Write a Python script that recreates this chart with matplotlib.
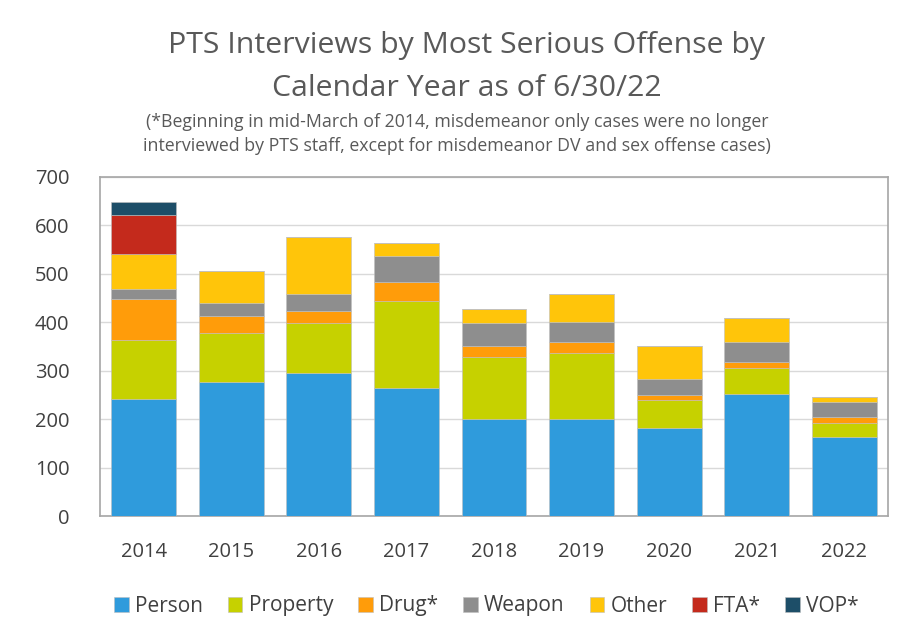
import matplotlib
matplotlib.use("Agg")
import matplotlib.pyplot as plt
import numpy as np

years = ["2014", "2015", "2016", "2017", "2018", "2019", "2020", "2021", "2022"]
person = [241, 276, 295, 264, 200, 201, 182, 252, 164]
property_ = [122, 101, 104, 180, 128, 135, 58, 54, 29]
drug = [86, 36, 25, 40, 24, 23, 10, 13, 12]
weapon = [19, 26, 34, 53, 47, 42, 33, 41, 30]
other = [74, 67, 119, 27, 28, 57, 68, 48, 11]
fta = [79, 0, 0, 0, 0, 0, 0, 0, 0]
vop = [28, 0, 0, 0, 0, 0, 0, 0, 0]

series_names = ["Person", "Property", "Drug*", "Weapon", "Other", "FTA*", "VOP*"]
series_vals = [person, property_, drug, weapon, other, fta, vop]
colors = ["#2F9BDC", "#C6D100", "#FF9C0A", "#8E8E8E", "#FFC50A", "#C42A1C", "#1D4E68"]

plt.rcParams['font.family'] = ['Open Sans', 'DejaVu Sans']

fig = plt.figure(figsize=(9.14, 6.42), dpi=100)
ax = fig.add_axes([100/914, 1-516/642, 788/914, 339/642])

x = np.arange(len(years))
bottom = np.zeros(len(years))
handles = []
for name, vals, c in zip(series_names, series_vals, colors):
    v = np.array(vals, dtype=float)
    b = ax.bar(x, v, 0.74, bottom=bottom, color=c, label=name,
               edgecolor="#BFBFBF", linewidth=0.4, zorder=3)
    handles.append(b)
    bottom += v

ax.set_xlim(-0.5, 8.5)
ax.set_ylim(0, 700)
ax.set_yticks(range(0, 701, 100))
ax.set_xticks(x)
ax.set_xticklabels(years)
ax.tick_params(axis='both', length=0, labelsize=14.5, colors="#404040")
ax.tick_params(axis='x', pad=19)
ax.tick_params(axis='y', pad=22)
ax.grid(axis='y', color="#D9D9D9", linewidth=1, zorder=0)
for s in ax.spines.values():
    s.set_color("#A6A6A6")
    s.set_linewidth(1.2)

fig.text(467/914, 1-45/642, "PTS Interviews by Most Serious Offense by", ha='center', va='center',
         fontsize=21.8, color="#595959")
fig.text(467/914, 1-88/642, "Calendar Year as of 6/30/22", ha='center', va='center',
         fontsize=21.8, color="#595959")
fig.text(0.5, 1-122/642, "(*Beginning in mid-March of 2014, misdemeanor only cases were no longer",
         ha='center', va='center', fontsize=12.8, color="#595959")
fig.text(0.5, 1-146/642, "interviewed by PTS staff, except for misdemeanor DV and sex offense cases)",
         ha='center', va='center', fontsize=12.8, color="#595959")

fig.legend(handles=handles, labels=series_names, loc='center', bbox_to_anchor=(0.532, 1-606/642),
           ncol=7, frameon=False, fontsize=15, handlelength=0.7, handleheight=0.7,
           handletextpad=0.3, columnspacing=1.2, labelcolor="#404040")

fig.savefig("out.png", dpi=100, facecolor="white")
